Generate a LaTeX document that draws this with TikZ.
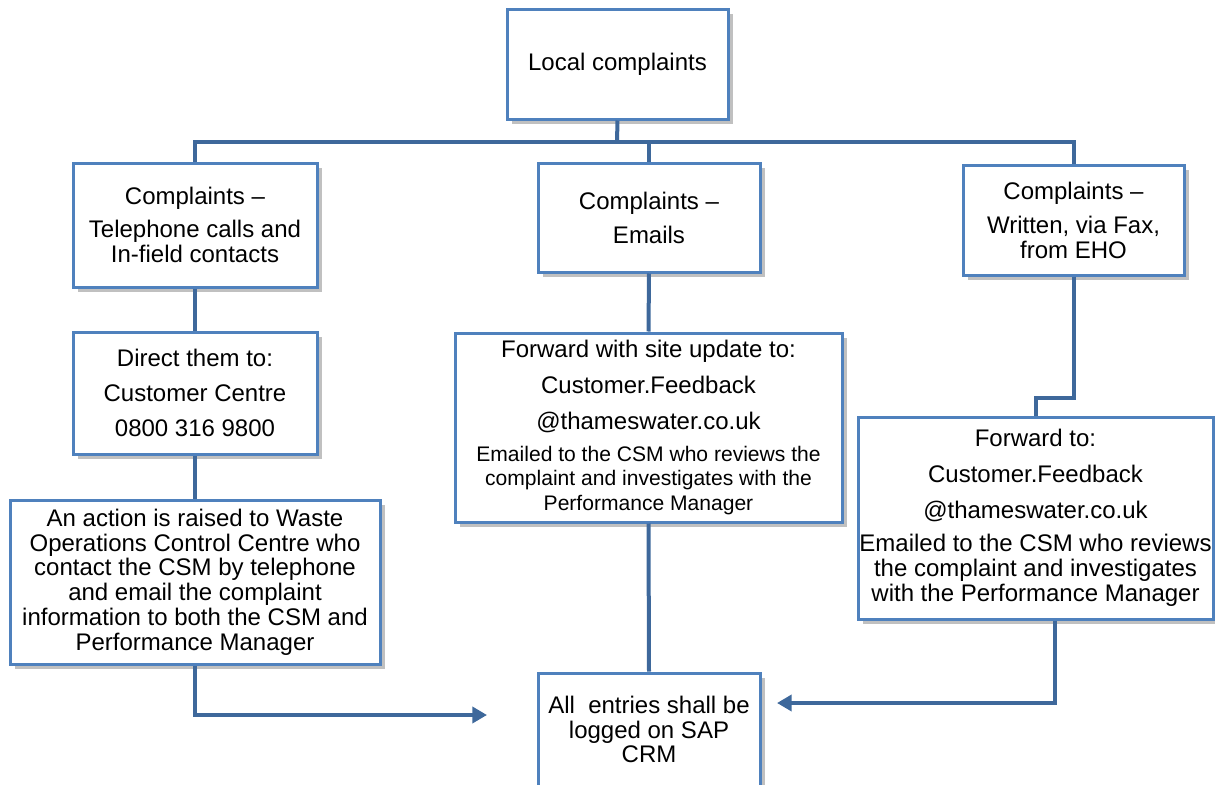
\documentclass[tikz,border=0pt]{standalone}
\usepackage{fontspec}
\setmainfont{Liberation Sans}
\usetikzlibrary{arrows.meta,shadows}

\definecolor{boxblue}{RGB}{79,129,189}
\definecolor{linkblue}{RGB}{62,104,155}
\newcommand{\notefont}{\fontsize{15.8}{17}\selectfont}

\tikzset{every picture/.style={line width=0.75pt}}
\tikzset{
  box/.style={draw=boxblue, line width=2.25pt, fill=white, align=center, inner sep=0pt,
    preaction={fill=black!55, opacity=0.45, transform canvas={xshift=3.5pt, yshift=-3.5pt}},
    font=\fontsize{18}{18.6}\selectfont},
  link/.style={draw=linkblue, line width=3pt},
  linkarrow/.style={link, -{Triangle[length=11pt,width=12pt]}}
}

\begin{document}
\begin{tikzpicture}[x=0.75pt,y=0.75pt,yscale=-1,xscale=1]
		\useasboundingbox (0,0) rectangle (1215,785);
		
		%Shape: Rectangle [id:top]
		\node [box, minimum width=165.75pt, minimum height=82.5pt] (top) at (617.5,64) {Local complaints};
		%Shape: Rectangle [id:phone]
		\node [box, minimum width=183pt, minimum height=93pt] (phone) at (195,225) {Complaints –\\[6pt]Telephone calls and\\In-field contacts};
		%Shape: Rectangle [id:emails]
		\node [box, minimum width=166.5pt, minimum height=81.75pt] (emails) at (649,217.5) {Complaints –\\[7pt]Emails};
		%Shape: Rectangle [id:written]
		\node [box, minimum width=165.75pt, minimum height=82.5pt] (written) at (1073.5,220) {Complaints –\\[7pt]Written, via Fax,\\from EHO};
		%Shape: Rectangle [id:direct]
		\node [box, minimum width=183pt, minimum height=91.5pt] (direct) at (195,393) {Direct them to:\\[7.5pt]Customer Centre\\[7.5pt]0800 316 9800};
		%Shape: Rectangle [id:fwdsite]
		\node [box, minimum width=290.25pt, minimum height=141.75pt] (fwdsite) at (648.5,427.5) {Forward with site update to:\\[8.5pt]Customer.Feedback\\[8.5pt]@thameswater.co.uk\\[5pt]
			\notefont Emailed to the CSM who reviews the\\\notefont complaint and investigates with the\\\notefont Performance Manager};
		%Shape: Rectangle [id:fwd]
		\node [box, minimum width=266.25pt, minimum height=151.5pt] (fwd) at (1035.5,518) {Forward to:\\[8.2pt]Customer.Feedback\\[8.2pt]@thameswater.co.uk\\[6.5pt]Emailed to the CSM who reviews\\the complaint and investigates\\with the Performance Manager};
		%Shape: Rectangle [id:action]
		\node [box, minimum width=277.5pt, minimum height=123pt] (action) at (195,582) {An action is raised to Waste\\Operations Control Centre who\\contact the CSM by telephone\\and email the complaint\\information to both the CSM and\\Performance Manager};
		%Shape: Rectangle [id:sap]
		\node [box, minimum width=166.5pt, minimum height=84.75pt] (sap) at (649,729.5) {All\ \ entries shall be\\logged on SAP\\CRM};
		
		\coordinate (bus) at (617,142);
		\coordinate (inL) at (487,715);
		\coordinate (inR) at (777,703);
		
		%Connectors
		\draw [link] (top.south) -- (bus);
		\draw [link] (phone.north) |- (bus);
		\draw [link] (written.north) |- (bus);
		\draw [link] (emails.north) -- (emails.north |- bus);
		\draw [link] (phone.south) -- (direct.north);
		\draw [link] (direct.south) -- (action.north);
		\draw [link] (emails.south) -- (fwdsite.north);
		\draw [link] (fwdsite.south) -- (sap.north);
		\draw [link] (written.south) -- ++(0,121) -| (fwd.north);
		\draw [linkarrow] (action.south) |- (inL);
		\draw [linkarrow] ([xshift=14.6pt]fwd.south) |- (inR);
		
	\end{tikzpicture}
\end{document}
